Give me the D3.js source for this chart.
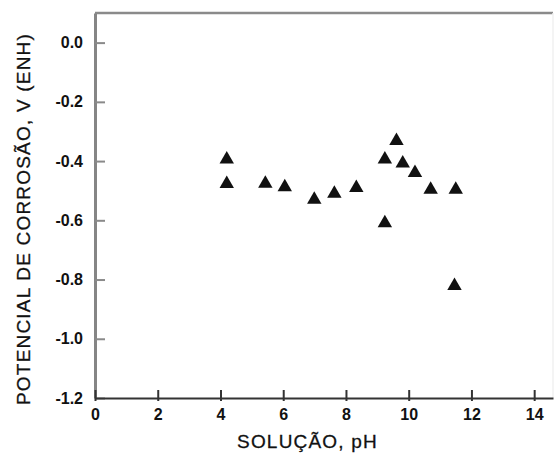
<!DOCTYPE html>
<html>
<head>
<meta charset="utf-8">
<script src="https://cdn.jsdelivr.net/npm/d3@7"></script>
<style>
  html, body { margin: 0; padding: 0; background: #fff; }
  svg { display: block; }
</style>
</head>
<body>
<svg id="chart" width="556" height="453"></svg>
<script>
// ---- data ----
const ph        = [4.2, 4.2, 5.43, 6.05, 6.99, 7.63, 8.33, 9.24, 9.24, 9.61, 9.81, 10.2, 10.7, 11.5, 11.46];
const potential = [-0.394, -0.477, -0.476, -0.488, -0.53, -0.51, -0.49, -0.394, -0.609, -0.332, -0.408, -0.44, -0.496, -0.496, -0.821];
const xTicks = [0, 2, 4, 6, 8, 10, 12, 14];
const yTicks = [0.0, -0.2, -0.4, -0.6, -0.8, -1.0, -1.2];
const xTitle = "SOLUÇÃO, pH";
const yTitle = "POTENCIAL DE CORROSÃO, V (ENH)";

const svg = d3.select("#chart");
const mLeft = 95, mRight = 553, mTop = 13, mBottom = 398;

const x = d3.scaleLinear().domain([0, 14.6]).range([mLeft, mRight]);
const y = d3.scaleLinear().domain([-1.2, 0.1]).range([mBottom, mTop]);

// frame: top and faint right border
svg.append("line").attr("x1", mLeft).attr("x2", mRight).attr("y1", mTop).attr("y2", mTop)
  .attr("stroke", "#8a8a8a").attr("stroke-width", 2.5);
svg.append("line").attr("x1", mRight).attr("x2", mRight).attr("y1", mTop).attr("y2", mBottom)
  .attr("stroke", "#f0f0f0").attr("stroke-width", 1.5);

// y axis
const yAxis = svg.append("g").attr("transform", `translate(${mLeft},0)`)
  .call(d3.axisLeft(y).tickValues(yTicks).tickSizeInner(-10).tickSizeOuter(0).tickPadding(12)
        .tickFormat(d => (Math.abs(d) < 1e-9 ? 0 : d).toFixed(1)));
yAxis.select(".domain").attr("stroke", "#858585").attr("stroke-width", 3);
yAxis.selectAll(".tick line").attr("stroke", "#8a8a8a").attr("stroke-width", 2);
yAxis.selectAll(".tick text")
  .attr("font-family", "Liberation Sans, Arial, sans-serif")
  .attr("font-weight", "bold").attr("font-size", 16).attr("fill", "#111");

// x axis
const xAxis = svg.append("g").attr("transform", `translate(0,${mBottom})`)
  .call(d3.axisBottom(x).tickValues(xTicks).tickSizeInner(3).tickSizeOuter(0).tickPadding(8)
        .tickFormat(d3.format("d")));
xAxis.select(".domain").attr("stroke", "#333").attr("stroke-width", 2.2);
xAxis.selectAll(".tick line").attr("y1", -8).attr("y2", 3)
  .attr("stroke", "#333").attr("stroke-width", 2);
xAxis.selectAll(".tick text")
  .attr("font-family", "Liberation Sans, Arial, sans-serif")
  .attr("font-weight", "bold").attr("font-size", 16).attr("fill", "#111");

// points
const tri = d3.symbol().type(d3.symbolTriangle).size(90);
svg.append("g").selectAll("path")
  .data(ph.map((p, i) => ({ p, v: potential[i] })))
  .join("path")
  .attr("d", tri)
  .attr("transform", d => `translate(${x(d.p)},${y(d.v)})`)
  .attr("fill", "#111");

// titles
svg.append("text")
  .attr("x", (238 + 377) / 2).attr("y", 448)
  .attr("text-anchor", "middle")
  .attr("font-family", "Liberation Sans, Arial, sans-serif")
  .attr("font-size", 19).attr("letter-spacing", 1.2).attr("fill", "#111")
  .attr("stroke", "#111").attr("stroke-width", 0.3)
  .text(xTitle);

svg.append("text")
  .attr("transform", `translate(30,219) rotate(-90)`)
  .attr("text-anchor", "middle")
  .attr("font-family", "Liberation Sans, Arial, sans-serif")
  .attr("font-size", 19).attr("letter-spacing", 1.2).attr("fill", "#111")
  .attr("stroke", "#111").attr("stroke-width", 0.3)
  .text(yTitle);
</script>
</body>
</html>
